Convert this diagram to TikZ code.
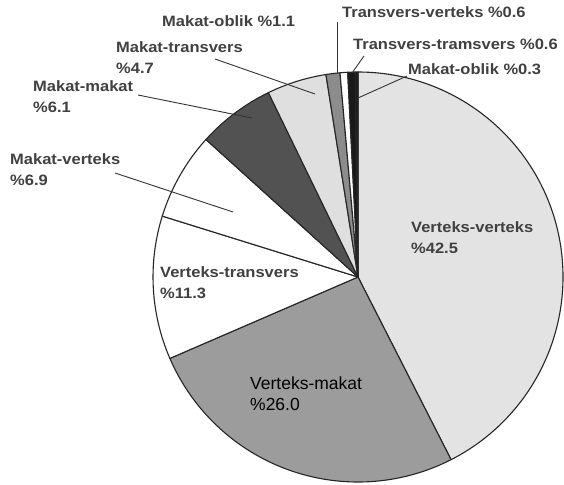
\documentclass[tikz,border=0pt]{standalone}
\usepackage{fontspec}
\setmainfont{Liberation Sans}
\newfontfamily\labfont[FakeStretch=1.1]{Liberation Sans Bold}
\begin{document}
\begin{tikzpicture}[x=1pt,y=-1pt,
  edge/.style={draw=black!85,line width=1.1pt,line join=round},
  lead/.style={draw=black!80,line width=0.9pt},
  lab/.style={font=\labfont\fontsize{15}{21}\selectfont,text=black!75,inner sep=0pt,align=left,anchor=base west},
  big/.style={font=\fontsize{17.5}{21.5}\selectfont,text=black,inner sep=0pt,align=left,anchor=base west}]
\useasboundingbox (0,0) rectangle (564,484);
\coordinate (C) at (358,277);
\def\R{205}
\newcommand\pieslice[3]{\path[edge,fill=#3] (C) -- ++(#1:\R) arc[start angle=#1,end angle=#2,radius=\R] -- cycle;}
% slices, clockwise from top
\pieslice{-90}{63}{gray!22}        % Verteks-verteks 42.5
\pieslice{63}{156.6}{gray!78}      % Verteks-makat 26.0
\pieslice{156.6}{197.28}{white}    % Verteks-transvers 11.3
\pieslice{197.28}{222.12}{white}   % Makat-verteks 6.9
\pieslice{222.12}{244.08}{black!68}% Makat-makat 6.1
\pieslice{244.08}{261}{gray!25}    % Makat-transvers 4.7
\pieslice{261}{264.96}{gray!90}    % Makat-oblik 1.1
\pieslice{264.96}{267.12}{white}   % Transvers-verteks 0.6
\pieslice{267.12}{269.28}{black!90}% Transvers-tramsvers 0.6
\pieslice{269.28}{270}{black!90}   % Makat-oblik 0.3
% labels (base west = baseline of the last line)
\node[lab] (mo11) at (162,27) {Makat-oblik \%1.1};
\node[lab] (mt) at (116,74) {Makat-transvers\\\%4.7};
\node[lab] (mm) at (33,113) {Makat-makat\\\%6.1};
\node[lab] (mv) at (10,185) {Makat-verteks\\\%6.9};
\node[lab] (vt) at (160,298) {Verteks-transvers\\\%11.3};
\node[lab] (vv) at (411,253) {Verteks-verteks\\\%42.5};
\node[lab] (tv) at (342,18) {Transvers-verteks \%0.6};
\node[lab] (tt) at (353,50) {Transvers-tramsvers \%0.6};
\node[lab] (mo03) at (408,75) {Makat-oblik \%0.3};
\node[big] (vm) at (250,410.5) {Verteks-makat\\\%26.0};
% leader lines
\coordinate (tvA) at (337,22);   \coordinate (tvB) at (337,74);
\coordinate (ttA) at (364,56);   \coordinate (ttB) at (352,73);
\coordinate (moA) at (407,76);   \coordinate (moB) at (358,98);
\coordinate (mtA) at (215,59);   \coordinate (mtB) at (315,94);
\coordinate (mmA) at (138,95);   \coordinate (mmB) at (252,118);
\coordinate (mvA) at (115,173);  \coordinate (mvB) at (233,212);
\draw[lead] (tvA) -- (tvB);
\draw[lead] (ttA) -- (ttB);
\draw[lead] (moA) -- (moB);
\draw[lead] (mtA) -- (mtB);
\draw[lead] (mmA) -- (mmB);
\draw[lead] (mvA) -- (mvB);
\end{tikzpicture}
\end{document}
